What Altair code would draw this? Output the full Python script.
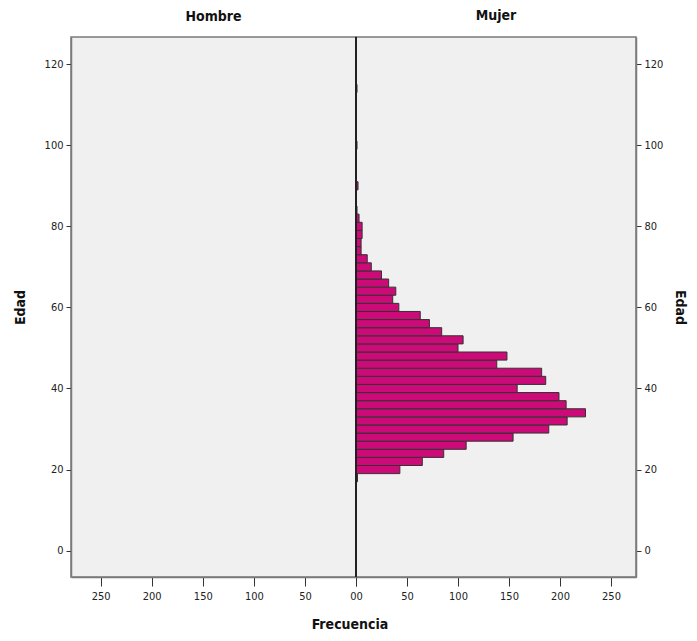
import altair as alt
import pandas as pd

# Edad (centro de cada intervalo de 2 años) y frecuencias
edad_mujer = [18, 20, 22, 24, 26, 28, 30, 32, 34, 36, 38, 40, 42, 44, 46, 48, 50, 52,
              54, 56, 58, 60, 62, 64, 66, 68, 70, 72, 74, 76, 78, 80, 82, 84, 90, 100, 114]
frec_mujer = [1.5, 43, 65, 86, 108, 154, 189, 207, 225, 206, 199, 158, 186, 182, 138, 148, 100, 105,
              84, 72, 63, 42, 36, 39, 32, 25, 15, 11, 5, 5, 6, 6, 3, 1, 2, 1, 1]
edad_hombre = []
frec_hombre = []

x_ticks = [0, 50, 100, 150, 200, 250]
y_ticks = [0, 20, 40, 60, 80, 100, 120]

rows = [{"sexo": "Mujer", "edad": e, "n": n} for e, n in zip(edad_mujer, frec_mujer)]
rows += [{"sexo": "Hombre", "edad": e, "n": n} for e, n in zip(edad_hombre, frec_hombre)]
df = pd.DataFrame(rows, columns=["sexo", "edad", "n"])

FILL = "#cc0a78"
FONT = "DejaVu Sans Condensed, Liberation Sans Narrow, Liberation Sans"
TFONT = "DejaVu Sans Condensed, Liberation Sans"
YDOM = [-6.5, 126.7]
H = 540


def base(sexo):
    return (alt.Chart(df)
            .transform_filter(alt.datum.sexo == sexo)
            .transform_calculate(lo="datum.edad - 1", hi="datum.edad + 1"))


def title(txt):
    return alt.TitleParams(txt, font=TFONT, fontSize=14, fontWeight="bold",
                           color="#111", anchor="middle", offset=13)


xaxis = alt.Axis(values=x_ticks, title=None, tickSize=9, labelPadding=4)

left = base("Hombre").mark_bar(fill=FILL, stroke="#333", strokeWidth=1).encode(
    x=alt.X("n:Q", scale=alt.Scale(domain=[0, 279], reverse=True, nice=False), axis=xaxis),
    x2=alt.datum(0),
    y=alt.Y("lo:Q", scale=alt.Scale(domain=YDOM, nice=False, zero=False),
            axis=alt.Axis(values=y_ticks, title="Edad", orient="left", titlePadding=17)),
    y2="hi:Q",
).properties(width=285, height=H, title=title("Hombre"))

bars = base("Mujer").mark_bar(fill=FILL, stroke="#333", strokeWidth=1).encode(
    x=alt.X("n:Q", scale=alt.Scale(domain=[0, 274.5], nice=False), axis=xaxis),
    x2=alt.datum(0),
    y=alt.Y("lo:Q", scale=alt.Scale(domain=YDOM, nice=False, zero=False),
            axis=alt.Axis(values=y_ticks, title="Edad", orient="right", titlePadding=10)),
    y2="hi:Q",
)
center = alt.Chart(df).mark_rule(color="#222", strokeWidth=1.2).encode(x=alt.value(0))
right = alt.layer(bars, center).properties(width=280, height=H, title=title("Mujer"))

chart = alt.hconcat(left, right, spacing=0, bounds="flush").properties(
    title=alt.TitleParams("Frecuencia", orient="bottom", anchor="middle", font=TFONT,
                          fontSize=14, fontWeight="bold", color="#111", offset=16),
    padding={"left": 4, "top": 0, "right": 0, "bottom": 0},
).configure_view(
    fill="#f0f0f0", stroke="#7a7a7a", strokeWidth=1.5
).configure_axis(
    labelFont=FONT, labelFontSize=11, labelColor="#222",
    titleFont=TFONT, titleFontSize=14, titleFontWeight="bold", titleColor="#111",
    domainColor="#7a7a7a", domainWidth=1.5, tickColor="#333", tickSize=5,
    grid=False, labelPadding=3
).configure_concat(spacing=0)

chart.save("out.html", embed_options={"renderer": "svg", "actions": False})
